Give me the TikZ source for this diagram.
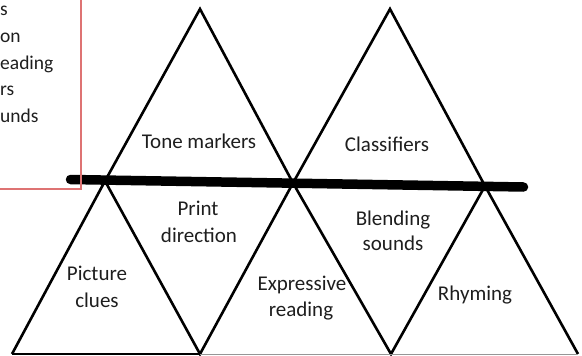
\documentclass[tikz,border=0pt]{standalone}
\usepackage{fontspec}
\setmainfont{Carlito}
\definecolor{boxred}{RGB}{222,115,115}
\definecolor{basegray}{RGB}{150,150,150}
\definecolor{txt}{RGB}{30,30,30}
\begin{document}
\begin{tikzpicture}[x=1pt,y=-1pt,
  tri/.style={line width=2.6pt,line join=miter},
  bar/.style={line width=9.5pt,line cap=round},
  lbl/.style={font=\fontsize{21}{27}\selectfont,text=txt,inner sep=0pt,anchor=base},
  boxtxt/.style={font=\fontsize{19.5}{26}\selectfont,text=txt,inner sep=0pt,anchor=base west},
  redbox/.style={draw=boxred,line width=1.1pt}]
\useasboundingbox (0,0) rectangle (582,356);
% vertices
\coordinate (A1) at (12,354);
\coordinate (T1) at (105,181);
\coordinate (B1) at (200,354);
\coordinate (T2) at (293,183);
\coordinate (B2) at (391,354);
\coordinate (T3) at (485,186);
\coordinate (B3) at (578,354);
\coordinate (P1) at (200,9);
\coordinate (P2) at (390,9);
\coordinate (L1) at (70.5,179.5);
\coordinate (L2) at (523.5,187);
% text box fragments
\node[boxtxt] (b1) at (0,16) {s};
\node[boxtxt] (b2) at (0,42.5) {on};
\node[boxtxt] (b3) at (0,69) {eading};
\node[boxtxt] (b4) at (0,95.5) {rs};
\node[boxtxt] (b5) at (0,122) {unds};
% triangles
\draw[tri] (A1) -- (T1) -- (B1) -- (T2) -- (B2) -- (T3) -- (B3);
\draw[tri] (T1) -- (P1) -- (T2) -- (P2) -- (T3);
\draw[line width=1.6pt] (A1) -- (B1);
\draw[basegray,line width=1pt] (B1) -- (B3);
% thick bar
\draw[bar] (L1) -- (L2);
% red box edges
\draw[redbox] (0,189) -- (81,189) -- (81,-2);
% labels
\node[lbl] (tone) at (199,148) {Tone markers};
\node[lbl] (class) at (387,151) {Classifiers};
\node[lbl] (print1) at (198,215) {Print};
\node[lbl] (print2) at (199,242) {direction};
\node[lbl] (pic1) at (97,280) {Picture};
\node[lbl] (pic2) at (97,307) {clues};
\node[lbl] (exp1) at (302,290) {Expressive};
\node[lbl] (exp2) at (301,316) {reading};
\node[lbl] (blend1) at (393,225) {Blending};
\node[lbl] (blend2) at (393,250) {sounds};
\node[lbl] (rhyme) at (475,300) {Rhyming};
\end{tikzpicture}
\end{document}
